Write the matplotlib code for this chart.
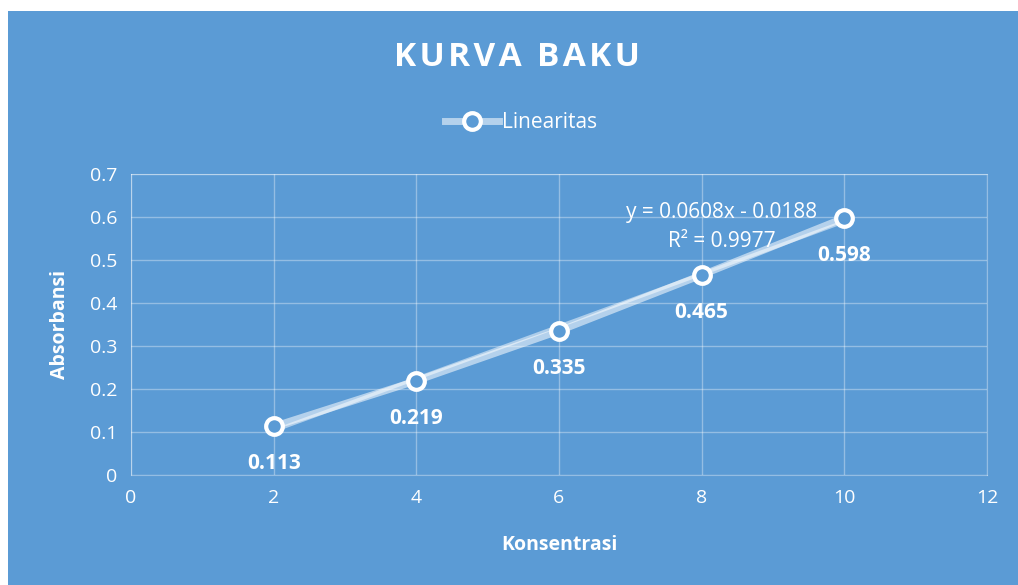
import numpy as np
import matplotlib.pyplot as plt
from matplotlib.patches import Rectangle
from matplotlib.lines import Line2D

konsentrasi = [2, 4, 6, 8, 10]
absorbansi = [0.113, 0.219, 0.335, 0.465, 0.598]
slope, intercept, r2 = 0.0608, -0.0188, 0.9977

bg = '#5b9bd5'
pale = (1, 1, 1, 0.55)
plt.rcParams['font.family'] = ['Open Sans', 'DejaVu Sans']

fig = plt.figure(figsize=(10.18, 5.85), dpi=100)
fig.patch.set_facecolor('white')
fig.add_artist(Rectangle((8 / 1018, 0), 1, 1 - 11 / 585, transform=fig.transFigure,
                         facecolor=bg, edgecolor='none', zorder=0))

ax = fig.add_axes([131 / 1018, 1 - 475 / 585, 856 / 1018, 301 / 585])
ax.set_facecolor(bg)
ax.set_xlim(0, 12)
ax.set_ylim(0, 0.7)
ax.set_xticks(np.arange(0, 13, 2))
ax.set_yticks(np.arange(0, 0.71, 0.1))
ax.set_yticklabels(['0', '0.1', '0.2', '0.3', '0.4', '0.5', '0.6', '0.7'])
ax.grid(True, color='white', alpha=0.35, lw=1)
ax.set_axisbelow(True)
for s in ax.spines.values():
    s.set_color((1, 1, 1, 0.35))
ax.tick_params(length=0, colors='white', labelsize=14, pad=10)

# data line
ax.plot(konsentrasi, absorbansi, color=pale, lw=5, solid_capstyle='round', zorder=3)
# trendline
xt = np.array([konsentrasi[0], konsentrasi[-1]])
ax.plot(xt, slope * xt + intercept, color='white', alpha=0.5, lw=2.5, zorder=3)
ax.plot(konsentrasi, absorbansi, ls='none', marker='o', ms=12, mfc=bg, mec='white', mew=3,
        zorder=4)

for x, y in zip(konsentrasi, absorbansi):
    ax.annotate(f'{y:.3f}', (x, y), xytext=(0, -27), textcoords='offset points',
                ha='center', va='center', color='white', fontsize=15, fontweight='bold')

ax.text(10 - 1.72, 0.61, f'y = {slope}x - {abs(intercept)}', ha='center', va='center',
        color='white', fontsize=15)
ax.text(10 - 1.72, 0.544, f'R² = {r2}', ha='center', va='center', color='white', fontsize=15)

ax.set_xlabel('Konsentrasi', color='white', fontsize=14, fontweight='bold', labelpad=20)
ax.set_ylabel('Absorbansi', color='white', fontsize=14, fontweight='bold', labelpad=14)

fig.text(517 / 1018, 1 - 57 / 585, '\u200a'.join('KURVA BAKU'),
         ha='center', va='center', color='white', fontsize=24, fontweight='bold')

# legend
h = Line2D([], [], color=pale, lw=5, marker='o', ms=12, mfc=bg, mec='white', mew=3)
leg = fig.legend([h], ['Linearitas'], loc='center', bbox_to_anchor=(521 / 1018, 1 - 123 / 585),
                 frameon=False, fontsize=15, labelcolor='white', handlelength=2.6, handletextpad=0.1)

fig.savefig('out.png', dpi=100, facecolor='white')
